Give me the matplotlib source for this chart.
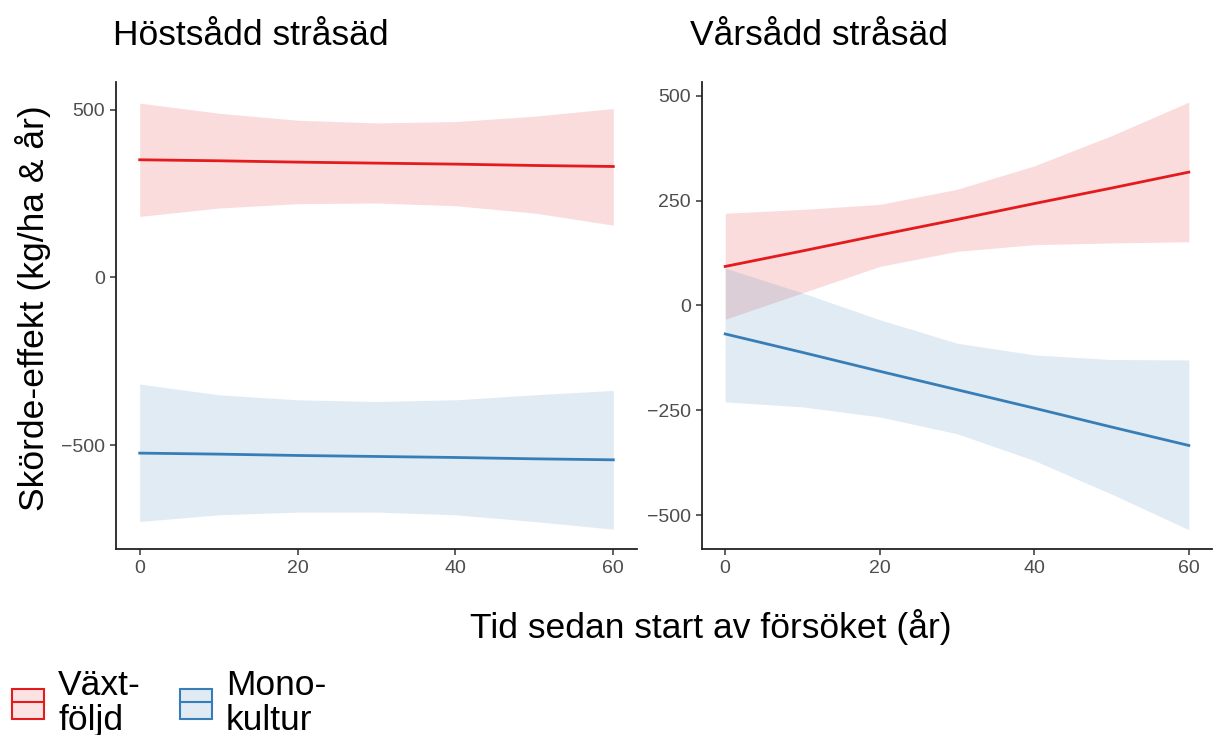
import numpy as np
import matplotlib
matplotlib.use("Agg")
import matplotlib.pyplot as plt
from matplotlib.patches import Patch
from matplotlib.lines import Line2D
from matplotlib.legend_handler import HandlerTuple

plt.rcParams['font.family'] = ['Liberation Sans', 'DejaVu Sans']

# --- data: fitted lines and 95% bands, years since start
years = [0, 10, 20, 30, 40, 50, 60]

# Höstsådd stråsäd
host_vaxt_fit = [351, 348, 344, 341, 338, 334, 331]
host_vaxt_hi = [520, 490, 469, 461, 465, 481, 504]
host_vaxt_lo = [182, 207, 220, 222, 214, 192, 156]
host_mono_fit = [-524, -527, -531, -534, -537, -541, -544]
host_mono_hi = [-318, -350, -365, -370, -365, -350, -337]
host_mono_lo = [-728, -708, -700, -700, -708, -728, -751]

# Vårsådd stråsäd
var_vaxt_fit = [93, 130, 168, 205, 243, 280, 318]
var_vaxt_hi = [220, 229, 241, 277, 333, 405, 485]
var_vaxt_lo = [-33, 30, 93, 129, 145, 149, 152]
var_mono_fit = [-68, -112, -157, -201, -245, -290, -334]
var_mono_hi = [89, 30, -34, -90, -118, -129, -130]
var_mono_lo = [-230, -242, -266, -306, -370, -450, -535]

titles = ['Höstsådd stråsäd', 'Vårsådd stråsäd']
series_labels = ['Växt-\nföljd', 'Mono-\nkultur']

RED = '#E41A1C'
BLUE = '#377EB8'
W, H = 1220, 735
BIG = 25.5

fig = plt.figure(figsize=(12.2, 7.35), dpi=100)
ax1 = fig.add_axes([116 / W, 1 - 549 / H, (637 - 116) / W, (549 - 82) / H])
ax2 = fig.add_axes([702 / W, 1 - 549 / H, (1212 - 702) / W, (549 - 82) / H])


def panel(ax, vfit, vhi, vlo, mfit, mhi, mlo, ticks, ylim, title, title_x):
    ax.fill_between(years, vlo, vhi, color=RED, alpha=0.15, lw=0)
    ax.fill_between(years, mlo, mhi, color=BLUE, alpha=0.15, lw=0)
    ax.plot(years, vfit, color=RED, lw=2)
    ax.plot(years, mfit, color=BLUE, lw=2)
    ax.set_xlim(-3, 63)
    ax.set_ylim(*ylim)
    ax.set_xticks([0, 20, 40, 60])
    ax.set_yticks(ticks)
    ax.set_yticklabels([str(t).replace('-', '\u2212') for t in ticks])
    for s in ['top', 'right']:
        ax.spines[s].set_visible(False)
    for s in ['left', 'bottom']:
        ax.spines[s].set_linewidth(1.3)
        ax.spines[s].set_color('#222222')
    ax.tick_params(length=4, width=1.1, color='#333333', labelsize=14,
                   labelcolor='#4D4D4D', pad=4)
    fig.text(title_x / W, 1 - 45 / H, title, fontsize=BIG,
             ha='left', va='baseline')


panel(ax1, host_vaxt_fit, host_vaxt_hi, host_vaxt_lo,
      host_mono_fit, host_mono_hi, host_mono_lo,
      [-500, 0, 500], (-810, 583), titles[0], 113)
panel(ax2, var_vaxt_fit, var_vaxt_hi, var_vaxt_lo,
      var_mono_fit, var_mono_hi, var_mono_lo,
      [-500, -250, 0, 250, 500], (-581, 533), titles[1], 690)

fig.text(33 / W, 1 - 308 / H, 'Skörde-effekt (kg/ha & år)', rotation=90,
         fontsize=BIG, ha='center', va='center')
fig.text(711 / W, 1 - 638 / H, 'Tid sedan start av försöket (år)',
         fontsize=BIG, ha='center', va='baseline')

handles = [
    (Patch(facecolor=RED, alpha=0.12, lw=0), Patch(facecolor='none', edgecolor=RED, lw=1.5),
     Line2D([], [], color=RED, lw=1.5)),
    (Patch(facecolor=BLUE, alpha=0.15, lw=0), Patch(facecolor='none', edgecolor=BLUE, lw=1.5),
     Line2D([], [], color=BLUE, lw=1.5)),
]
leg = fig.legend(handles, series_labels, handler_map={tuple: HandlerTuple(ndivide=1)},
                 loc='lower left', bbox_to_anchor=(0.004, -0.012), ncol=2, frameon=False,
                 fontsize=BIG, handlelength=0.9, handleheight=0.95, handletextpad=0.4,
                 columnspacing=1.1, borderaxespad=0.0, borderpad=0.2, labelspacing=0.2)
for t in leg.get_texts():
    t.set_linespacing(1.05)

fig.savefig('out.png', dpi=100)
